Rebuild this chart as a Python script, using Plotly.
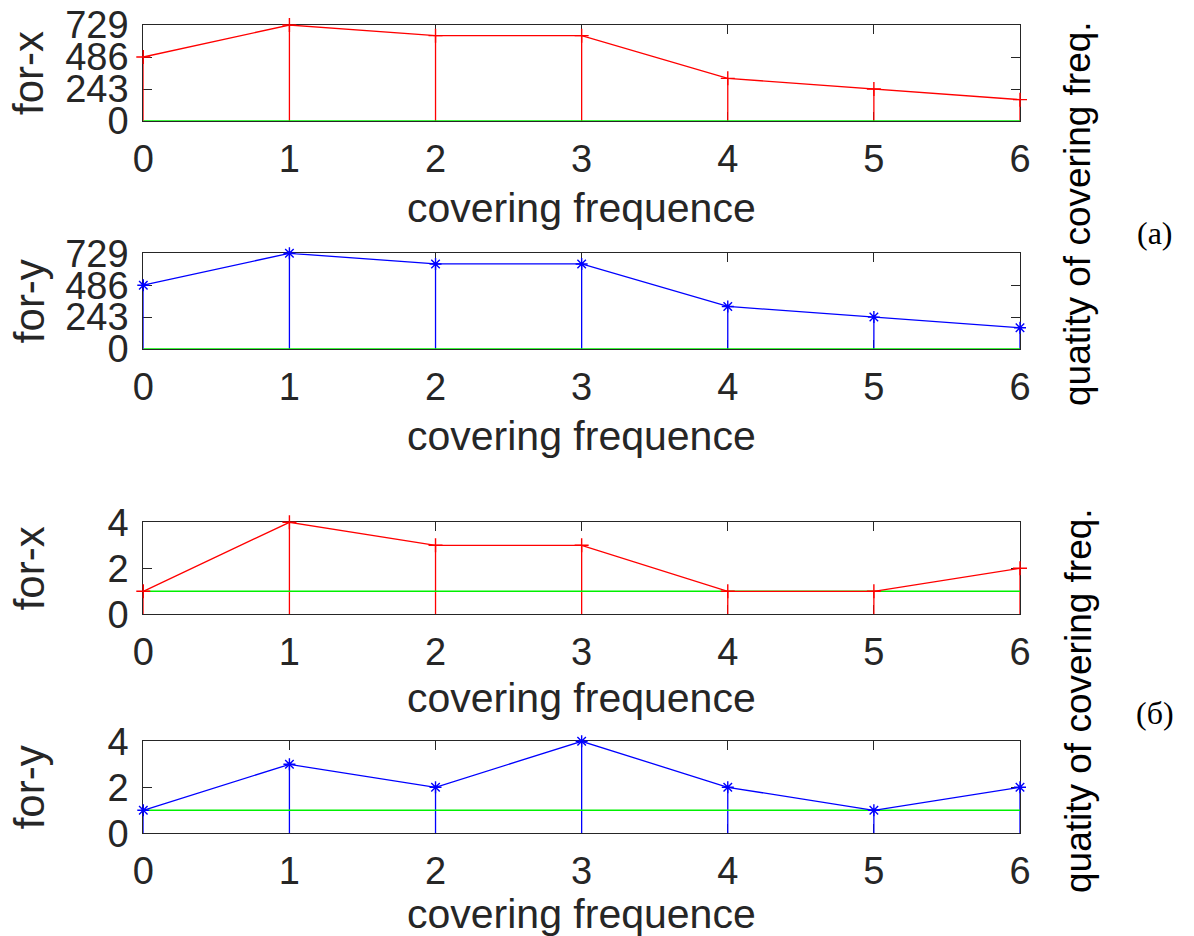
import plotly.graph_objects as go

W, H = 1194, 936

freq = [0, 1, 2, 3, 4, 5, 6]
a_for_x = [486, 729, 648, 648, 324, 243, 162]
a_for_y = [486, 729, 648, 648, 324, 243, 162]
b_for_x = [1, 4, 3, 3, 1, 1, 2]
b_for_y = [1, 3, 2, 4, 2, 1, 2]
a_ref = 0
b_ref = 1
a_ticks = [0, 243, 486, 729]
b_ticks = [0, 2, 4]
x_ticks = [0, 1, 2, 3, 4, 5, 6]

RED = "#FF0000"
BLUE = "#0000FF"
GREEN = "#00F000"
AX = "#262626"
FONT = "Liberation Sans, Arial, Helvetica, sans-serif"

# panel pixel boxes (top, bottom, x-title centre)
X0, X1 = 143.3, 1020.0
panels = [
    (25.0, 121.0, 208, a_for_x, RED, "cross-thin-open", "for-x", [0, 729], a_ticks, a_ref),
    (253.3, 349.0, 436, a_for_y, BLUE, "asterisk-open", "for-y", [0, 729], a_ticks, a_ref),
    (522.3, 614.3, 698, b_for_x, RED, "cross-thin-open", "for-x", [0, 4], b_ticks, b_ref),
    (741.3, 833.3, 914, b_for_y, BLUE, "asterisk-open", "for-y", [0, 4], b_ticks, b_ref),
]

fig = go.Figure()
annotations = []
for i, (top, bot, tcy, vals, col, sym, ylab, yr, yt, ref) in enumerate(panels, start=1):
    xa = "x" if i == 1 else f"x{i}"
    ya = "y" if i == 1 else f"y{i}"
    # stems
    sx, sy = [], []
    for f, v in zip(freq, vals):
        sx += [f, f, None]
        sy += [0, v, None]
    fig.add_trace(go.Scatter(x=sx, y=sy, mode="lines", line=dict(color=col, width=1.3),
                             xaxis=xa, yaxis=ya, showlegend=False, cliponaxis=False,
                             hoverinfo="skip"))
    # reference green line
    fig.add_trace(go.Scatter(x=[freq[0], freq[-1]], y=[ref, ref], mode="lines",
                             line=dict(color=GREEN, width=1.5),
                             xaxis=xa, yaxis=ya, showlegend=False, cliponaxis=False))
    # connecting line with markers
    fig.add_trace(go.Scatter(x=freq, y=vals, mode="lines+markers",
                             line=dict(color=col, width=1.3),
                             marker=dict(symbol=sym, size=10, color=col,
                                         line=dict(color=col, width=1.4)),
                             xaxis=xa, yaxis=ya, showlegend=False, cliponaxis=False))
    xd = [X0 / W, X1 / W]
    yd = [1 - bot / H, 1 - top / H]
    common = dict(showline=True, linecolor=AX, linewidth=1.2, mirror="ticks",
                  ticks="inside", ticklen=9, tickwidth=1.2, tickcolor=AX,
                  showgrid=False, zeroline=False, layer="below traces",
                  automargin=False,
                  tickfont=dict(family=FONT, size=38, color=AX))
    fig.layout[("xaxis" if i == 1 else f"xaxis{i}")] = dict(
        domain=xd, anchor=ya, range=[0, 6], tickmode="array", tickvals=x_ticks,
        ticklabelstandoff=4, **common)
    fig.layout[("yaxis" if i == 1 else f"yaxis{i}")] = dict(
        domain=yd, anchor=xa, range=yr, tickmode="array", tickvals=yt,
        ticklabelstandoff=6, **common)
    # x title
    annotations.append(dict(text="covering frequence", x=(X0 + X1) / 2 / W,
                            y=1 - tcy / H, xref="paper", yref="paper",
                            xanchor="center", yanchor="middle", showarrow=False,
                            font=dict(family=FONT, size=41, color=AX)))
    # y title
    annotations.append(dict(text=ylab, x=29 / W, y=1 - (top + bot) / 2 / H,
                            xref="paper", yref="paper", xanchor="center",
                            yanchor="middle", textangle=-90, showarrow=False,
                            font=dict(family=FONT, size=42, color=AX)))

for cy in [214, 701]:
    annotations.append(dict(text="quatity of covering freq.", x=1078 / W, y=1 - cy / H,
                            xref="paper", yref="paper", xanchor="center",
                            yanchor="middle", textangle=-90, showarrow=False,
                            font=dict(family=FONT, size=37, color="#000000")))
for cy, lab in [(233, "(a)"), (713, "(б)")]:
    annotations.append(dict(text=lab, x=1155 / W, y=1 - cy / H,
                            xref="paper", yref="paper", xanchor="center",
                            yanchor="middle", showarrow=False,
                            font=dict(family="Liberation Serif, Times New Roman, serif",
                                      size=32, color="#000000")))

fig.update_layout(width=W, height=H, autosize=False,
                  margin=dict(l=0, r=0, t=0, b=0, autoexpand=False),
                  paper_bgcolor="white", plot_bgcolor="white",
                  annotations=annotations)

fig.write_html("out.html")
